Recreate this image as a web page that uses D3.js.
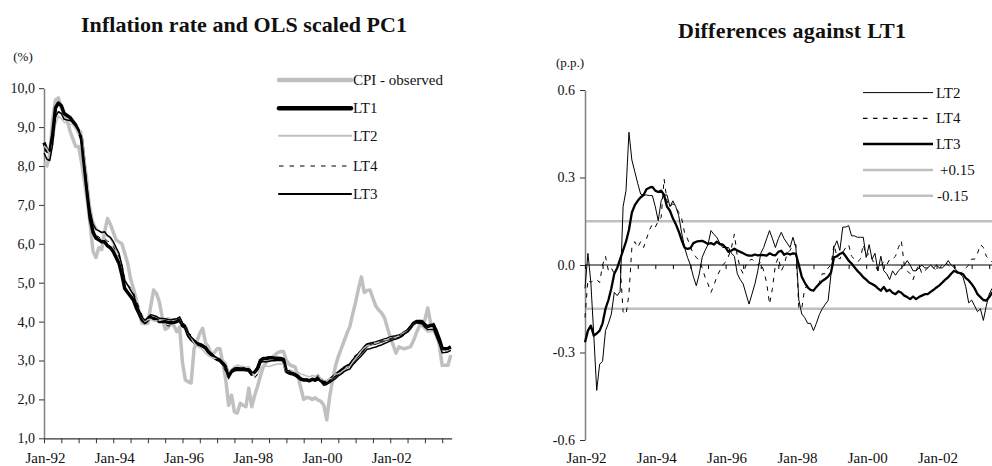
<!DOCTYPE html>
<html><head><meta charset="utf-8">
<script src="https://cdn.jsdelivr.net/npm/d3@7"></script>
<style>
body{margin:0;background:#fff;}
svg{display:block;}
text{font-family:"Liberation Serif","Times New Roman",serif;fill:#111;}
</style>
</head><body>
<svg id="c" width="992" height="466"></svg>
<script>
// ---------- DATA (monthly, Jan-92 .. Oct-03) ----------
const cpi = [
 8.1, 8.0, 8.3, 9.2, 9.7, 9.75, 9.5, 9.3, 9.2, 8.9,
 8.7, 8.5, 8.5, 8.1, 7.6, 7.1, 6.5, 5.8, 5.65, 5.9,
 5.85, 6.3, 6.65, 6.5, 6.3, 6.1, 6.05, 6.0, 5.75, 5.5,
 5.1, 4.85, 4.55, 4.2, 3.96, 3.95, 3.96, 4.4, 4.81, 4.72,
 4.5, 4.1, 3.8, 3.85, 3.95, 3.9, 3.74, 3.86, 2.94, 2.5,
 2.45, 2.42, 3.3, 3.5, 3.7, 3.83, 3.45, 3.35, 3.15, 3.2,
 3.3, 3.3, 2.93, 2.5, 1.85, 2.11, 1.68, 1.65, 1.9, 1.85,
 1.81, 2.29, 1.81, 2.1, 2.33, 2.6, 2.84, 2.95, 3.01, 3.08,
 3.14, 3.2, 3.23, 3.23, 3.0, 2.9, 2.86, 2.84, 2.6, 2.3,
 2.0, 2.05, 2.04, 2.0, 2.04, 1.98, 1.95, 1.85, 1.47, 2.07,
 2.5, 2.85, 3.1, 3.3, 3.5, 3.7, 3.87, 4.2, 4.5, 4.85,
 5.15, 4.75, 4.8, 4.81, 4.6, 4.4, 4.3, 4.22, 4.1, 3.85,
 3.6, 3.4, 3.19, 3.35, 3.32, 3.3, 3.33, 3.35, 3.5, 3.7,
 3.87, 3.95, 4.04, 4.35, 3.96, 3.85, 3.8, 3.4, 2.88, 2.88,
 2.88, 3.14
];
const lt1 = [
 8.6, 8.4, 8.35, 8.8, 9.5, 9.62, 9.55, 9.35, 9.3, 9.25,
 9.15, 9.05, 8.9, 8.7, 8.0, 7.3, 6.65, 6.3, 6.15, 6.1,
 6.05, 6.05, 5.95, 5.9, 5.8, 5.65, 5.5, 5.2, 4.85, 4.75,
 4.65, 4.55, 4.35, 4.2, 4.05, 3.98, 4.05, 4.1, 4.08, 4.05,
 4.0, 4.0, 4.0, 3.98, 3.97, 3.98, 4.0, 4.05, 3.9, 3.85,
 3.65, 3.55, 3.48, 3.42, 3.4, 3.37, 3.32, 3.22, 3.15, 3.08,
 3.03, 3.0, 2.92, 2.84, 2.6, 2.72, 2.76, 2.77, 2.77, 2.77,
 2.76, 2.75, 2.65, 2.7, 2.8, 3.0, 3.05, 3.05, 3.07, 3.07,
 3.06, 3.06, 3.05, 3.03, 2.72, 2.68, 2.66, 2.63, 2.58, 2.52,
 2.5, 2.5, 2.48, 2.52, 2.5, 2.55, 2.5, 2.42, 2.45, 2.5,
 2.56, 2.62, 2.68, 2.74, 2.8, 2.85, 2.88, 2.98, 3.06, 3.15,
 3.23, 3.32, 3.4, 3.42, 3.44, 3.45, 3.48, 3.5, 3.53, 3.55,
 3.58, 3.6, 3.61, 3.63, 3.66, 3.72, 3.76, 3.85, 3.95, 4.0,
 4.0, 4.0, 3.92, 3.87, 3.9, 3.91, 3.74, 3.55, 3.31, 3.3,
 3.31, 3.35
];
// differences against LT1 (p.p.)
const dLT2 = [
 -0.08, 0.04, -0.06, -0.24, -0.43, -0.34, -0.33, -0.225, -0.2, -0.168,
 -0.094, -0.105, -0.09, 0.2, 0.255, 0.455, 0.36, 0.32, 0.28, 0.243,
 0.24, 0.24, 0.238, 0.238, 0.2, 0.152, 0.22, 0.24, 0.24, 0.2,
 0.22, 0.2, 0.169, 0.11, 0.06, 0.026, 0.0, -0.04, -0.071, -0.031,
 0.026, 0.05, 0.07, 0.118, 0.105, 0.095, 0.075, 0.06, 0.06, 0.06,
 0.04, 0.03, -0.03, -0.05, -0.065, -0.1, -0.134, -0.1, -0.065, -0.02,
 0.04, 0.06, 0.09, 0.118, 0.09, 0.06, 0.09, 0.112, 0.09, 0.075,
 0.06, 0.095, 0.06, -0.12, -0.168, -0.18, -0.2, -0.2, -0.225, -0.2,
 -0.17, -0.15, -0.135, -0.122, -0.03, 0.06, 0.083, 0.05, 0.13, 0.13,
 0.135, 0.1, 0.1, 0.095, 0.095, 0.095, 0.026, 0.07, 0.02, 0.04,
 -0.02, 0.03, -0.02, -0.03, -0.05, -0.02, -0.035, -0.02, -0.01, 0.0,
 0.015, 0.0, -0.02, -0.02, -0.01, 0.0, -0.01, -0.01, 0.0, -0.01,
 0.0, -0.01, -0.01, 0.0, 0.015, 0.0, -0.008, -0.02, -0.03, -0.04,
 -0.075, -0.13, -0.12, -0.14, -0.16, -0.15, -0.19, -0.14, -0.1, -0.08,
 -0.07, -0.07
];
const dLT4 = [
 -0.18, -0.05, -0.06, -0.05, -0.05, -0.06, 0.0, 0.03, -0.02, -0.01,
 -0.03, -0.01, 0.0, -0.16, -0.17, -0.1, 0.06, 0.08, 0.06, 0.08,
 0.06, 0.09, 0.12, 0.14, 0.13, 0.15, 0.163, 0.295, 0.22, 0.2,
 0.21, 0.2, 0.18, 0.16, 0.11, 0.09, 0.06, 0.04, 0.026, 0.015,
 -0.01, -0.042, -0.065, -0.094, -0.07, -0.04, -0.02, 0.0, 0.01, 0.03,
 0.06, 0.106, 0.03, -0.01, -0.03, 0.0, 0.015, 0.02, 0.01, 0.0,
 0.01, -0.02, -0.06, -0.134, -0.08, 0.0, 0.026, -0.02, 0.0, 0.04,
 0.05, 0.07, 0.07, -0.15, -0.15, -0.08, -0.07, -0.08, -0.09, -0.07,
 -0.06, -0.03, -0.03, -0.01, 0.0, 0.07, 0.03, 0.02, 0.043, 0.06,
 0.07, 0.03, 0.02, 0.01, 0.02, 0.07, 0.03, 0.04, 0.02, 0.0,
 -0.02, 0.0, 0.01, 0.0, 0.02, 0.02, 0.03, 0.06, 0.083, 0.0,
 -0.02, -0.03, -0.05, -0.02, 0.0, -0.03, -0.02, -0.01, 0.0, -0.01,
 -0.02, -0.01, 0.0, 0.01, 0.0, -0.01, 0.0, -0.02, -0.03, -0.02,
 -0.01, 0.0, 0.02, 0.02, 0.04, 0.07, 0.06, 0.03, 0.02, 0.01,
 0.0, 0.0
];
const dLT3 = [
 -0.265, -0.225, -0.208, -0.242, -0.235, -0.225, -0.2, -0.15, -0.12, -0.08,
 -0.03, -0.01, 0.02, 0.05, 0.08, 0.12, 0.18, 0.205, 0.22, 0.232,
 0.24, 0.26, 0.265, 0.268, 0.255, 0.25, 0.255, 0.24, 0.2, 0.186,
 0.16, 0.14, 0.115, 0.085, 0.06, 0.055, 0.058, 0.075, 0.08, 0.082,
 0.083, 0.078, 0.072, 0.075, 0.07, 0.08, 0.072, 0.07, 0.06, 0.045,
 0.05, 0.056, 0.05, 0.045, 0.04, 0.035, 0.032, 0.032, 0.036, 0.033,
 0.035, 0.034, 0.032, 0.04, 0.035, 0.033, 0.045, 0.049, 0.035, 0.04,
 0.036, 0.04, 0.038, 0.0, -0.04, -0.06, -0.077, -0.085, -0.088, -0.075,
 -0.065, -0.055, -0.048, -0.04, -0.025, 0.026, 0.03, 0.038, 0.043, 0.03,
 0.015, 0.005, -0.008, -0.02, -0.03, -0.042, -0.05, -0.06, -0.065, -0.071,
 -0.08, -0.088, -0.075, -0.09, -0.085, -0.095, -0.1, -0.09, -0.095, -0.105,
 -0.11, -0.117, -0.108, -0.117, -0.11, -0.105, -0.1, -0.1, -0.092, -0.085,
 -0.077, -0.07, -0.06, -0.05, -0.042, -0.03, -0.02, -0.025, -0.028, -0.031,
 -0.045, -0.053, -0.065, -0.08, -0.1, -0.11, -0.12, -0.122, -0.11, -0.095,
 -0.09, -0.09
];
const bands = [0.15, -0.15];
const leftYTicks = [1,2,3,4,5,6,7,8,9,10];
const rightYTicks = [-0.6,-0.3,0,0.3,0.6];
const xLabels = ["Jan-92","Jan-94","Jan-96","Jan-98","Jan-00","Jan-02"];
const titles = ["Inflation rate and OLS scaled PC1","Differences against LT1"];
const units = ["(%)","(p.p.)"];

// levels of LT2/LT4/LT3 = LT1 + difference
const lt2 = lt1.map((v,i)=>v+dLT2[i]);
const lt4 = lt1.map((v,i)=>v+dLT4[i]);
const lt3 = lt1.map((v,i)=>v+dLT3[i]);

const svg = d3.select("#c");
const FONT = '"Liberation Serif","Times New Roman",serif';
const LABEL_Y = 462.5;

// ---------- LEFT PANEL ----------
const xL = d3.scaleLinear().domain([0,141.3]).range([44,451.7]);
const yL = d3.scaleLinear().domain([1,10]).range([438.3,88.2]);
const gL = svg.append("g");

gL.append("text").attr("x",244).attr("y",31.5).attr("text-anchor","middle")
  .attr("font-size",22).attr("font-weight","bold").attr("textLength",326).attr("lengthAdjust","spacing")
  .text(titles[0]);
gL.append("text").attr("x",23).attr("y",61).attr("text-anchor","middle").attr("font-size",13).text(units[0]);

const yAxL = gL.append("g").attr("transform","translate(44,0)")
  .call(d3.axisLeft(yL).tickValues(leftYTicks).tickSize(5).tickSizeOuter(0).tickPadding(4)
    .tickFormat(d=>d.toFixed(1).replace(".",",")));
yAxL.select(".domain").attr("stroke","#808080").attr("stroke-width",1.5);
yAxL.selectAll(".tick line").attr("stroke","#333");
yAxL.selectAll("text").attr("font-size",14).attr("font-family",FONT).attr("fill","#222");

const monthTicks = d3.range(0,142,6);
const xAxL = gL.append("g").attr("transform","translate(0,438.3)")
  .call(d3.axisBottom(xL).tickValues(monthTicks).tickSize(5).tickSizeOuter(0).tickFormat(""));
xAxL.select(".domain").attr("stroke","#333").attr("stroke-width",1.2);
xAxL.selectAll(".tick line").attr("stroke","#333");
xLabels.forEach((lab,i)=>{
  gL.append("text").attr("x",xL(i*24)+1.5).attr("y",LABEL_Y).attr("text-anchor","middle")
    .attr("font-size",15).text(lab);
});

const lineL = d3.line().x((d,i)=>xL(i)).y(d=>yL(d));
const leftSeries = [
  {name:"CPI - observed", data:cpi, stroke:"#c0c0c0", w:3.5, dash:null, ly:80, lw:4.5},
  {name:"LT1", data:lt1, stroke:"#000", w:3.5, dash:null, ly:108.3, lw:4.5},
  {name:"LT2", data:lt2, stroke:"#c0c0c0", w:1.5, dash:null, ly:135.7, lw:2},
  {name:"LT4", data:lt4, stroke:"#000", w:1, dash:"4.5,6", ly:166, lw:1.2},
  {name:"LT3", data:lt3, stroke:"#000", w:1.5, dash:null, ly:194, lw:2.2}
];
leftSeries.forEach(s=>{
  gL.append("path").attr("d",lineL(s.data)).attr("fill","none").attr("stroke",s.stroke)
    .attr("stroke-width",s.w).attr("stroke-linejoin","round").attr("stroke-dasharray",s.dash);
});
leftSeries.forEach(s=>{
  gL.append("line").attr("x1",279).attr("x2",351).attr("y1",s.ly).attr("y2",s.ly)
    .attr("stroke",s.stroke).attr("stroke-width",s.lw).attr("stroke-dasharray",s.dash)
    .attr("stroke-linecap", s.dash? "butt":"round");
  gL.append("text").attr("x",353).attr("y",s.ly+5).attr("font-size",15).text(s.name);
});

// ---------- RIGHT PANEL ----------
const xR = d3.scaleLinear().domain([0,24]).range([585,655.3]);
const yR = d3.scaleLinear().domain([-0.6,0.6]).range([440,90]);
const gR = svg.append("g");

gR.append("text").attr("x",792).attr("y",37.5).attr("text-anchor","middle")
  .attr("font-size",22).attr("font-weight","bold").attr("textLength",228).attr("lengthAdjust","spacing")
  .text(titles[1]);
gR.append("text").attr("x",570).attr("y",67).attr("text-anchor","middle").attr("font-size",13).text(units[1]);

bands.forEach(b=>{
  gR.append("line").attr("x1",585).attr("x2",1000).attr("y1",yR(b)).attr("y2",yR(b))
    .attr("stroke","#c0c0c0").attr("stroke-width",2.5);
});

const yAxR = gR.append("g").attr("transform","translate(585,0)")
  .call(d3.axisLeft(yR).tickValues(rightYTicks).tickSize(5).tickSizeOuter(0).tickPadding(5)
    .tickFormat(d=> d3.format(".1f")(d).replace("\u2212","-")));
yAxR.select(".domain").attr("stroke","#808080").attr("stroke-width",1.5);
yAxR.selectAll(".tick line").attr("stroke","#333");
yAxR.selectAll("text").attr("font-size",14).attr("font-family",FONT).attr("fill","#222");

const xAxR = gR.append("g").attr("transform",`translate(0,${yR(0)})`)
  .call(d3.axisBottom(xR).tickValues(monthTicks).tickSize(4).tickSizeOuter(0).tickFormat(""));
xAxR.select(".domain").attr("stroke","#000").attr("stroke-width",1.2)
  .attr("d",`M585,0H${xR(141.3)}`);
xAxR.selectAll(".tick line").attr("stroke","#000");

xLabels.forEach((lab,i)=>{
  gR.append("text").attr("x",xR(i*24)+1.5).attr("y",LABEL_Y).attr("text-anchor","middle")
    .attr("font-size",15).text(lab);
});

const lineR = d3.line().x((d,i)=>xR(i)).y(d=>yR(d));
const rightSeries = [
  {name:"LT2", data:dLT2, stroke:"#000", w:1, dash:null, ly:92.6, lw:1},
  {name:"LT4", data:dLT4, stroke:"#000", w:1, dash:"4.5,5.5", ly:118.3, lw:1.2},
  {name:"LT3", data:dLT3, stroke:"#000", w:2.3, dash:null, ly:144, lw:2.5}
];
rightSeries.forEach(s=>{
  gR.append("path").attr("d",lineR(s.data)).attr("fill","none").attr("stroke",s.stroke)
    .attr("stroke-width",s.w).attr("stroke-linejoin","round").attr("stroke-dasharray",s.dash);
});
const rightLegend = rightSeries.map(s=>({name:s.name, stroke:s.stroke, lw:s.lw, dash:s.dash, ly:s.ly, tx:936}))
  .concat([{name:"+0.15", stroke:"#c0c0c0", lw:2.5, dash:null, ly:170, tx:940},
           {name:"-0.15", stroke:"#c0c0c0", lw:2.5, dash:null, ly:195.7, tx:937}]);
rightLegend.forEach(s=>{
  gR.append("line").attr("x1",863).attr("x2",933).attr("y1",s.ly).attr("y2",s.ly)
    .attr("stroke",s.stroke).attr("stroke-width",s.lw).attr("stroke-dasharray",s.dash);
  gR.append("text").attr("x",s.tx).attr("y",s.ly+5).attr("font-size",15).text(s.name);
});
</script>
</body></html>
